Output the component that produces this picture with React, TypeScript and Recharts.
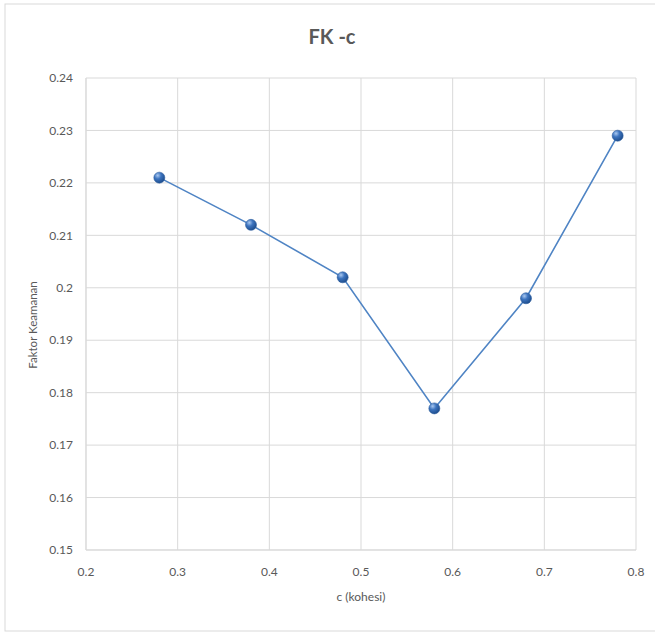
import { LineChart, Line, XAxis, YAxis, CartesianGrid, Label } from 'recharts'

const cohesion = [0.28, 0.38, 0.48, 0.58, 0.68, 0.78]
const safetyFactor = [0.221, 0.212, 0.202, 0.177, 0.198, 0.229]
const xTicks = [0.2, 0.3, 0.4, 0.5, 0.6, 0.7, 0.8]
const yTicks = [0.15, 0.16, 0.17, 0.18, 0.19, 0.2, 0.21, 0.22, 0.23, 0.24]

const data = cohesion.map((c, i) => ({ c, fk: safetyFactor[i] }))

const font = 'Lato, "Open Sans", sans-serif'
const tickStyle = { fill: '#595959', fontSize: 12, fontFamily: font }

const fmt = (v: number) => String(parseFloat(v.toFixed(2)))

const Ball = (props: any) => {
  const { cx, cy } = props
  if (cx == null || cy == null) return null
  return <circle cx={cx} cy={cy} r={5.5} fill="url(#ball)" stroke="#2c5d9e" strokeWidth={0.6} />
}

export default function App() {
  return (
    <div style={{ position: 'absolute', left: 0, top: 0, width: 655, height: 632, background: '#fff' }}>
      <svg width={655} height={632} style={{ position: 'absolute', left: 0, top: 0 }}>
        <rect x={5} y={4} width={660} height={627} fill="#fff" stroke="#d9d9d9" strokeWidth={1} />
      </svg>
      <div style={{ position: 'absolute', left: 0, top: 0 }}>
        <LineChart width={655} height={632} data={data} margin={{ top: 78, right: 19, bottom: 0, left: 0 }}>
          <defs>
            <radialGradient id="ball" cx="35%" cy="30%" r="70%">
              <stop offset="0%" stopColor="#a9c8f0" />
              <stop offset="45%" stopColor="#3d74bf" />
              <stop offset="100%" stopColor="#1f4f8f" />
            </radialGradient>
          </defs>
          <text x={332} y={44} textAnchor="middle" fill="#595959" fontSize={20} fontWeight="bold" fontFamily={font}>
            FK -c
          </text>
          <text
            x={37}
            y={325}
            transform="rotate(-90 37 325)"
            textAnchor="middle"
            fill="#595959"
            fontSize={11.5}
            fontFamily={font}
          >
            Faktor Keamanan
          </text>
          <CartesianGrid stroke="#d9d9d9" strokeWidth={1} />
          <XAxis
            type="number"
            dataKey="c"
            domain={[0.2, 0.8]}
            ticks={xTicks}
            tickFormatter={fmt}
            axisLine={{ stroke: '#d9d9d9' }}
            tickLine={false}
            tickSize={0}
            tickMargin={17}
            tick={tickStyle}
            height={82}
            interval={0}
          >
            <Label value="c (kohesi)" position="insideTop" offset={42} fill="#595959" fontSize={12} fontFamily={font} />
          </XAxis>
          <YAxis
            type="number"
            domain={[0.15, 0.24]}
            ticks={yTicks}
            tickFormatter={fmt}
            axisLine={{ stroke: '#d9d9d9' }}
            tickLine={false}
            tickSize={0}
            tickMargin={13}
            tick={tickStyle}
            width={86}
            interval={0}
          />
          <Line
            type="linear"
            dataKey="fk"
            stroke="#4f84c4"
            strokeWidth={1.6}
            dot={<Ball />}
            activeDot={false}
            isAnimationActive={false}
          />
        </LineChart>
      </div>
    </div>
  )
}
